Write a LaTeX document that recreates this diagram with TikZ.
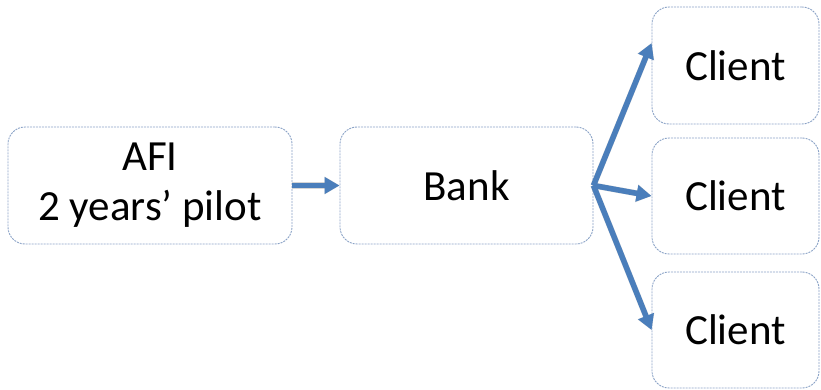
\documentclass[tikz,border=0pt]{standalone}
\usepackage{fontspec}
\setmainfont{Carlito}
\usetikzlibrary{arrows.meta,calc}
\definecolor{boxline}{HTML}{8AA2C6}
\definecolor{flow}{HTML}{4A7EBB}
\tikzset{
  card/.style={draw=boxline, line width=0.9pt, dash pattern=on 2pt off 1pt,
    rounded corners=17pt, inner sep=0pt, align=center,
    font=\fontsize{43}{50}\selectfont},
  flowarrow/.style={draw=flow, line width=5.5pt,
    -{Triangle[length=15pt,width=16pt]}},
  flowshade/.style={draw=black, opacity=0.16, line width=6pt,
    -{Triangle[length=15pt,width=17pt]}}
}
\begin{document}
\begin{tikzpicture}[x=1pt,y=-1pt]
  \useasboundingbox (0,0) rectangle (821,390);
  % boxes
  \node[card, minimum width=284pt, minimum height=117pt] (afi) at (150,185.5) {\raisebox{-3pt}{\begin{tabular}{@{}c@{}}AFI\\2 years’ pilot\end{tabular}}};
  \node[card, minimum width=253pt, minimum height=117pt] (bank) at (466.5,185.5) {\raisebox{-3pt}{Bank}};
  \node[card, minimum width=167pt, minimum height=117pt] (c1) at (735.5,65.5) {Client};
  \node[card, minimum width=167pt, minimum height=116pt] (c2) at (735.5,196) {Client};
  \node[card, minimum width=167pt, minimum height=116pt] (c3) at (735.5,330) {Client};
  % arrow targets
  \coordinate (t1) at ($(c1.north west)!0.31!(c1.south west)$);
  % soft shadows under the arrows
  \begin{scope}[shift={(2,3)}]
    \draw[flowshade] (afi.east) -- (bank.west);
    \draw[flowshade] (bank.east) -- (t1);
    \draw[flowshade] (bank.east) -- (c2.west);
    \draw[flowshade] (bank.east) -- (c3.west);
  \end{scope}
  % arrows
  \draw[flowarrow] (afi.east) -- (bank.west);
  \draw[flowarrow] (bank.east) -- (t1);
  \draw[flowarrow] (bank.east) -- (c2.west);
  \draw[flowarrow] (bank.east) -- (c3.west);
\end{tikzpicture}
\end{document}
